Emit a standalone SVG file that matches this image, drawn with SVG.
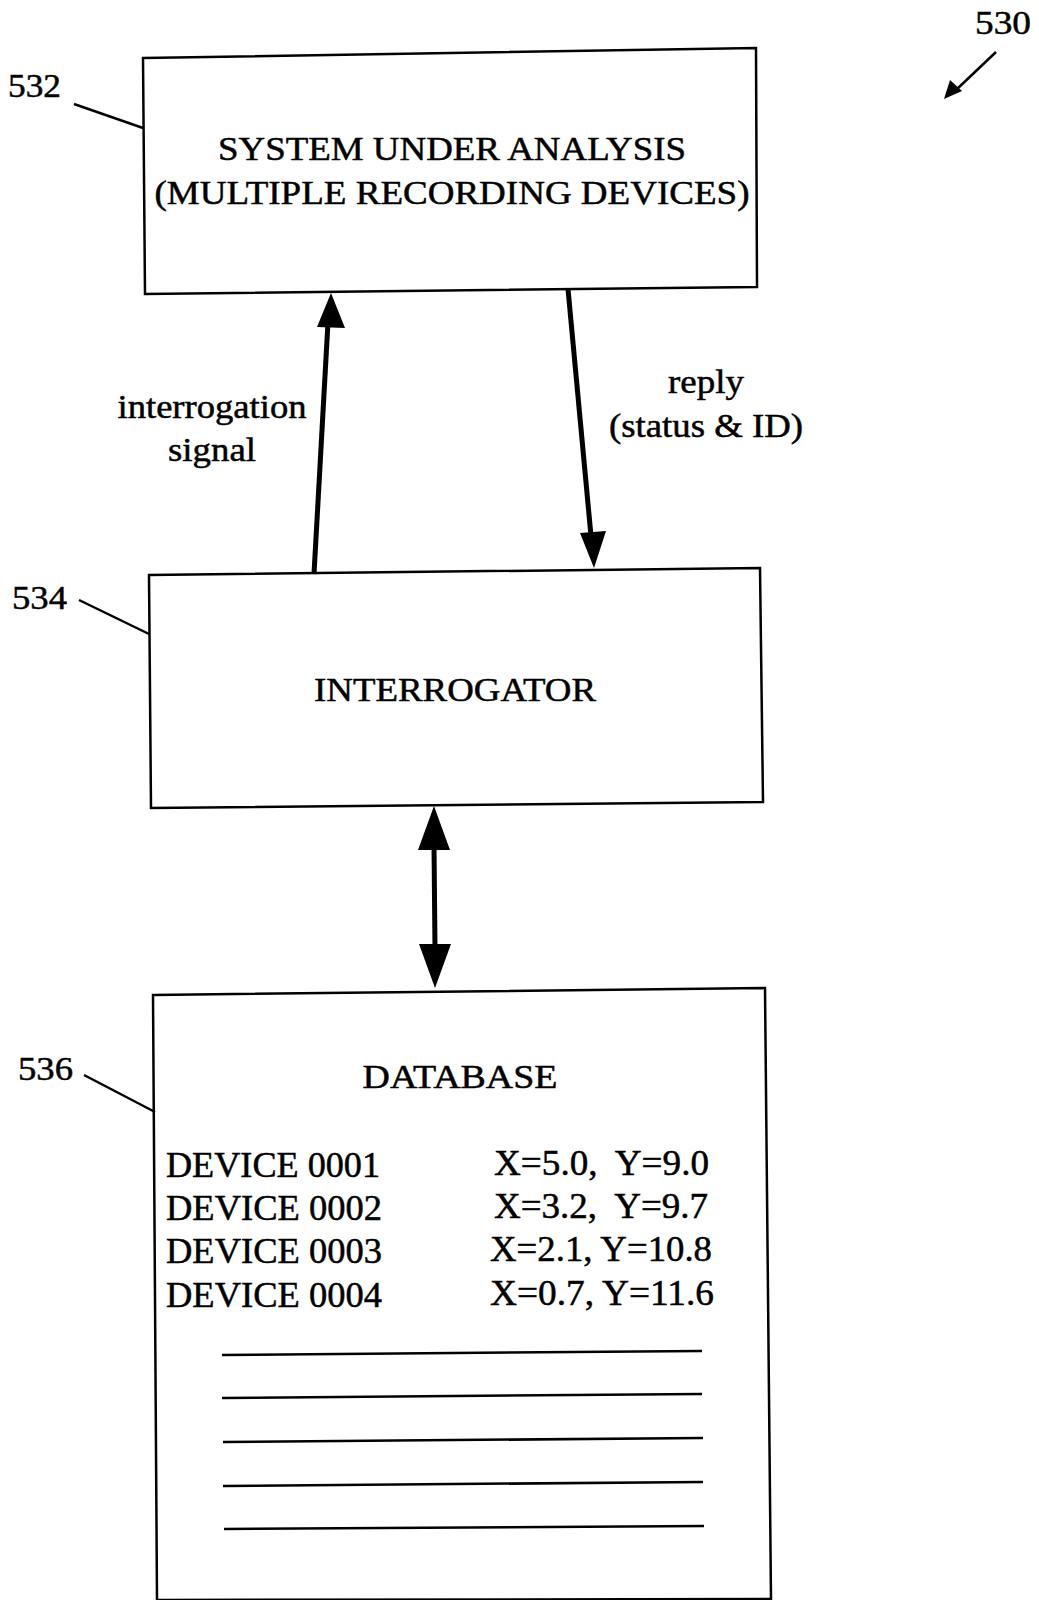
<svg xmlns="http://www.w3.org/2000/svg" width="1039" height="1600" viewBox="0 0 1039 1600">
<style>
.box{fill:#fff;stroke:#000;stroke-width:2.5}
.t{font-family:"Liberation Serif","Times New Roman",serif;font-size:34px;fill:#000;stroke:#000;stroke-width:0.5}
.d{font-size:36px}
.c{text-anchor:middle}
.lead{stroke:#000;stroke-width:2.5;fill:none}
.arr{stroke:#000;stroke-width:5;fill:none}
.head{fill:#000;stroke:none}
</style>
<rect width="1039" height="1600" fill="#fff"/>
<g id="ref530">
<text class="t" x="975" y="34" textLength="56" lengthAdjust="spacingAndGlyphs">530</text>
<line class="lead" x1="996" y1="52" x2="956" y2="90"/>
<polygon class="head" points="944,99 950,80 962,91"/>
</g>
<g id="node532">
<polygon class="box" points="143,58 756,48 757,287 145,294"/>
<text class="t c" x="452" y="160" textLength="468" lengthAdjust="spacingAndGlyphs">SYSTEM UNDER ANALYSIS</text>
<text class="t c" x="452" y="204" textLength="595" lengthAdjust="spacingAndGlyphs">(MULTIPLE RECORDING DEVICES)</text>
<text class="t" x="8" y="97" textLength="53" lengthAdjust="spacingAndGlyphs">532</text>
<line class="lead" x1="74" y1="104" x2="143" y2="128"/>
</g>
<g id="node534">
<polygon class="box" points="149,575 760,568 763,802 151,808"/>
<text class="t c" x="455" y="701" textLength="282" lengthAdjust="spacingAndGlyphs">INTERROGATOR</text>
<text class="t" x="12" y="609" textLength="55" lengthAdjust="spacingAndGlyphs">534</text>
<line class="lead" x1="79" y1="600" x2="149" y2="634"/>
</g>
<g id="node536">
<polygon class="box" points="153,995 765,988 771,1599 157,1600"/>
<text class="t c" x="460" y="1088" textLength="195" lengthAdjust="spacingAndGlyphs">DATABASE</text>
<text class="t" x="18" y="1080" textLength="55" lengthAdjust="spacingAndGlyphs">536</text>
<line class="lead" x1="84" y1="1075" x2="155" y2="1112"/>
<text class="t d" x="166" y="1177" textLength="214" lengthAdjust="spacingAndGlyphs">DEVICE 0001</text>
<text class="t d" x="166" y="1220" textLength="216" lengthAdjust="spacingAndGlyphs">DEVICE 0002</text>
<text class="t d" x="166" y="1263" textLength="216" lengthAdjust="spacingAndGlyphs">DEVICE 0003</text>
<text class="t d" x="166" y="1307" textLength="216" lengthAdjust="spacingAndGlyphs">DEVICE 0004</text>
<text class="t d" x="494" y="1175" textLength="215" lengthAdjust="spacingAndGlyphs" xml:space="preserve">X=5.0,  Y=9.0</text>
<text class="t d" x="494" y="1218" textLength="214" lengthAdjust="spacingAndGlyphs" xml:space="preserve">X=3.2,  Y=9.7</text>
<text class="t d" x="490" y="1261" textLength="222" lengthAdjust="spacingAndGlyphs">X=2.1, Y=10.8</text>
<text class="t d" x="490" y="1305" textLength="224" lengthAdjust="spacingAndGlyphs">X=0.7, Y=11.6</text>
<g stroke="#000" stroke-width="2.5">
<line x1="222" y1="1355" x2="702" y2="1351"/>
<line x1="222" y1="1398" x2="702" y2="1394"/>
<line x1="223" y1="1442" x2="703" y2="1438"/>
<line x1="223" y1="1486" x2="703" y2="1482"/>
<line x1="224" y1="1529" x2="704" y2="1526"/>
</g>
</g>
<g id="connectors">
<line class="arr" x1="314" y1="574" x2="328" y2="322"/>
<polygon class="head" points="331,293 345,328 317,327"/>
<text class="t c" x="212" y="418" textLength="189" lengthAdjust="spacingAndGlyphs">interrogation</text>
<text class="t c" x="212" y="461" textLength="88" lengthAdjust="spacingAndGlyphs">signal</text>
<line class="arr" x1="568" y1="289" x2="591" y2="536"/>
<polygon class="head" points="594,568 580,533 606,531"/>
<text class="t c" x="706" y="393" textLength="76" lengthAdjust="spacingAndGlyphs">reply</text>
<text class="t c" x="706" y="437" textLength="194" lengthAdjust="spacingAndGlyphs">(status &amp; ID)</text>
<line class="arr" x1="434" y1="845" x2="435" y2="950"/>
<polygon class="head" points="434,806 450,850 418,850"/>
<polygon class="head" points="435,988 419,944 451,944"/>
</g>
</svg>
